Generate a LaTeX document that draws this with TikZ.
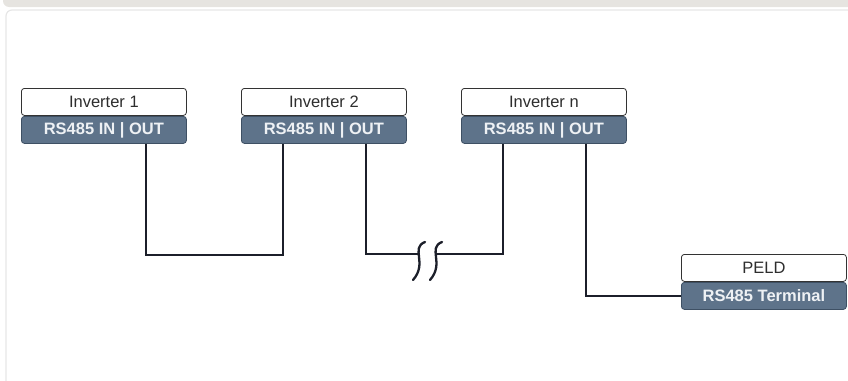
\documentclass[tikz,border=0pt]{standalone}
\usepackage{fontspec}
\setmainfont{Liberation Sans}
\usetikzlibrary{calc}
\definecolor{barfill}{HTML}{5E738A}
\definecolor{barline}{HTML}{3E5064}
\definecolor{bartext}{HTML}{EEF1F4}
\definecolor{labeltext}{HTML}{2E2E2E}
\definecolor{wirecol}{HTML}{1C1F2A}
\definecolor{frame}{HTML}{E6E4E0}
\definecolor{panelline}{HTML}{E6E6E6}
\begin{document}
\begin{tikzpicture}[x=1pt,y=-1pt,
  namebox/.style={draw=black!80, fill=white, text=labeltext, rounded corners=3pt,
    minimum width=165pt, minimum height=27pt, inner sep=0pt, anchor=north west,
    line width=0.8pt, font=\fontsize{16.5}{17}\selectfont},
  portbar/.style={draw=barline, fill=barfill, text=bartext, rounded corners=3pt,
    minimum width=165pt, minimum height=27pt, inner sep=0pt, anchor=north west,
    line width=0.8pt, font=\bfseries\fontsize{16.5}{17}\selectfont},
  wire/.style={draw=wirecol, line width=2.4pt},
  breakmark/.style={draw=wirecol, line width=2.3pt, line cap=round}
]
\useasboundingbox (0,0) rectangle (848,380);

% window frame
\fill[frame, rounded corners=6pt] (3,-12) rectangle (870,7);
\draw[panelline, line width=1.2pt, rounded corners=6pt] (6,400) -- (6,10) -- (870,10);

% devices
\node[namebox] (n1) at (21,88)  {Inverter 1};
\node[portbar] (b1) at (21,116) {RS485 IN | OUT};
\node[namebox] (n2) at (241,88)  {Inverter 2};
\node[portbar] (b2) at (241,116) {RS485 IN | OUT};
\node[namebox] (n3) at (461,88)  {Inverter n};
\node[portbar] (b3) at (461,116) {RS485 IN | OUT};
\node[namebox] (pn) at (681,254) {PELD};
\node[portbar] (pb) at (681,282) {RS485 Terminal};

% bus wiring
\coordinate (brkL) at (419,254);
\coordinate (brkR) at (436,254);
\draw[wire] ([xshift=42pt]b1.south) -- ++(0,111) -| ([xshift=-41pt]b2.south);
\draw[wire] ([xshift=42pt]b2.south) |- (brkL);
\draw[wire] (brkR) -| ([xshift=-41pt]b3.south);
\draw[wire] ([xshift=42pt]b3.south) |- (pb.west);

% interruption mark
\draw[breakmark] ($(brkL)+(6,-12)$) .. controls ($(brkL)+(-9,-6)$) and ($(brkL)+(9,9)$) .. ($(brkL)+(-6,26)$);
\draw[breakmark] ($(brkR)+(6,-12)$) .. controls ($(brkR)+(-9,-6)$) and ($(brkR)+(9,9)$) .. ($(brkR)+(-6,26)$);
\end{tikzpicture}
\end{document}
